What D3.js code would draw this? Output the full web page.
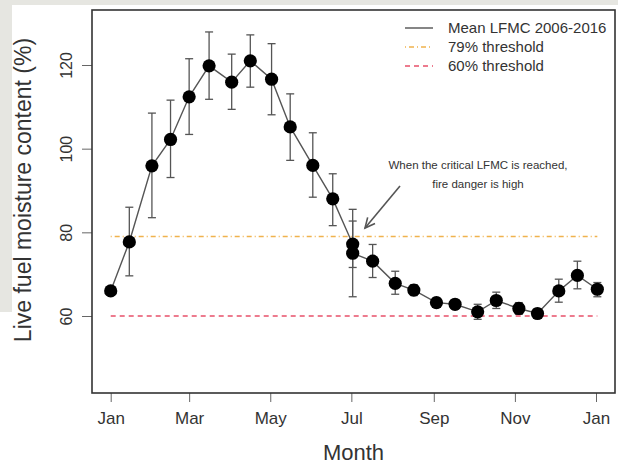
<!DOCTYPE html>
<html>
<head>
<meta charset="utf-8">
<script src="https://cdn.jsdelivr.net/npm/d3@7"></script>
<style>
  body { margin: 0; background: #fff; }
  svg { display: block; font-family: "Liberation Sans", Arial, sans-serif; }
</style>
</head>
<body>
<div id="chart"></div>
<script>
        // Data: day of year for each mean, with the spread shown as error bars
        const days = [1, 15, 32, 46, 60, 75, 92, 106, 122, 136, 153, 168, 183, 183,
                      198, 215, 229, 246, 260, 277, 291, 308, 322, 338, 352, 367];
        const meanLfmc = [66.0, 77.7, 95.9, 102.2, 112.4, 119.8, 115.9, 121.0, 116.6, 105.2,
                          96.0, 88.0, 77.2, 75.0, 73.1, 67.8, 66.2, 63.2, 62.8, 61.0,
                          63.7, 61.8, 60.6, 66.0, 69.7, 66.4];
        const upperLfmc = [66.5, 86.0, 108.5, 111.6, 121.5, 127.9, 122.6, 127.2, 125.1, 113.1,
                           103.8, 94.0, 82.7, 85.5, 77.1, 70.7, 67.5, 64.3, 63.9, 62.8,
                           65.7, 63.2, 61.7, 68.8, 73.1, 68.0];
        const lowerLfmc = [65.5, 69.6, 83.5, 93.1, 103.4, 111.8, 109.4, 114.7, 108.1, 97.2,
                           88.4, 81.6, 71.6, 64.6, 69.2, 65.2, 64.9, 62.1, 61.7, 59.2,
                           61.8, 60.4, 59.5, 63.3, 66.5, 64.6];
        const monthTicks = [1, 60, 121, 182, 244, 305, 366];
        const monthLabels = ["Jan", "Mar", "May", "Jul", "Sep", "Nov", "Jan"];
        const yTicks = [60, 80, 100, 120];
        const thresholds = [79, 60];

        const width = 618;
        const height = 466;
        const box = { left: 92, right: 615, top: 10, bottom: 393 };

        const svg = d3.select("#chart")
            .append("svg")
            .attr("width", width)
            .attr("height", height);

        // slide background peeking around the figure
        svg.append("rect").attr("x", 0).attr("y", 0).attr("width", width).attr("height", 5).attr("fill", "#e6e6e1");
        svg.append("rect").attr("x", 0).attr("y", 0).attr("width", 12).attr("height", 312).attr("fill", "#e6e6e1");

        const x = d3.scaleLinear().domain([1, 366]).range([110.7, 596]);
        const y = d3.scaleLinear().domain([60, 120]).range([316, 65]);

        const textColor = "#333";

        // axes
        const xAxis = svg.append("g")
            .attr("transform", `translate(0,${box.bottom})`)
            .call(d3.axisBottom(x).tickValues(monthTicks).tickFormat((d, i) => monthLabels[i]).tickSize(9).tickPadding(10));
        xAxis.select(".domain").remove();
        xAxis.selectAll("line").attr("stroke", "#666").attr("stroke-width", 1);
        xAxis.selectAll("text").attr("font-size", 17).attr("fill", textColor).attr("font-family", "Liberation Sans, Arial, sans-serif");

        const yAxis = svg.append("g")
            .attr("transform", `translate(${box.left},0)`)
            .call(d3.axisLeft(y).tickValues(yTicks).tickSize(10).tickPadding(0).tickFormat(d3.format("d")));
        yAxis.select(".domain").remove();
        yAxis.selectAll("line").attr("stroke", "#666").attr("stroke-width", 1);
        yAxis.selectAll("text")
            .attr("font-size", 16)
            .attr("fill", textColor)
            .attr("font-family", "Liberation Sans, Arial, sans-serif")
            .attr("text-anchor", "middle")
            .attr("x", 0).attr("dy", 0)
            .attr("transform", "translate(-20,0) rotate(-90)");

        svg.append("rect")
            .attr("x", box.left).attr("y", box.top)
            .attr("width", box.right - box.left).attr("height", box.bottom - box.top)
            .attr("fill", "none").attr("stroke", "#333").attr("stroke-width", 1.6);

        // axis titles
        svg.append("text")
            .attr("x", (box.left + box.right) / 2).attr("y", 460)
            .attr("text-anchor", "middle").attr("font-size", 22).attr("fill", textColor)
            .text("Month");
        svg.append("text")
            .attr("transform", "translate(31,190) rotate(-90)")
            .attr("text-anchor", "middle").attr("font-size", 23).attr("fill", textColor)
            .text("Live fuel moisture content (%)");

        // threshold lines
        const thrStyle = [
            { color: "#f0b24e", dash: "1,3,5,3" },
            { color: "#e8506a", dash: "5,4" }
        ];
        svg.append("g")
            .selectAll("line")
            .data(thresholds)
            .enter()
            .append("line")
            .attr("x1", x(days[0])).attr("x2", x(days[days.length - 1]))
            .attr("y1", d => y(d)).attr("y2", d => y(d))
            .attr("stroke", (d, i) => thrStyle[i].color)
            .attr("stroke-width", 1.3)
            .attr("stroke-dasharray", (d, i) => thrStyle[i].dash);

        // error bars
        const idx = d3.range(days.length);
        const bars = svg.append("g").attr("stroke", "#555").attr("stroke-width", 1.3);
        bars.selectAll("line.v").data(idx).enter().append("line")
            .attr("x1", i => x(days[i])).attr("x2", i => x(days[i]))
            .attr("y1", i => y(upperLfmc[i])).attr("y2", i => y(lowerLfmc[i]));
        bars.selectAll("line.top").data(idx).enter().append("line")
            .attr("x1", i => x(days[i]) - 4).attr("x2", i => x(days[i]) + 4)
            .attr("y1", i => y(upperLfmc[i])).attr("y2", i => y(upperLfmc[i]));
        bars.selectAll("line.bot").data(idx).enter().append("line")
            .attr("x1", i => x(days[i]) - 4).attr("x2", i => x(days[i]) + 4)
            .attr("y1", i => y(lowerLfmc[i])).attr("y2", i => y(lowerLfmc[i]));

        // mean line and points
        const line = d3.line().x(i => x(days[i])).y(i => y(meanLfmc[i]));
        svg.append("path")
            .datum(idx)
            .attr("d", line)
            .attr("fill", "none")
            .attr("stroke", "#555")
            .attr("stroke-width", 1.4);

        svg.append("g")
            .selectAll("circle")
            .data(idx)
            .enter()
            .append("circle")
            .attr("cx", i => x(days[i]))
            .attr("cy", i => y(meanLfmc[i]))
            .attr("r", 6.6)
            .attr("fill", "#000");

        // legend
        const legendItems = [
            { label: "Mean LFMC 2006-2016", color: "#444", dash: null },
            { label: "79% threshold", color: thrStyle[0].color, dash: thrStyle[0].dash },
            { label: "60% threshold", color: thrStyle[1].color, dash: thrStyle[1].dash }
        ];
        const legend = svg.append("g");
        legendItems.forEach((item, i) => {
            const ly = 28 + i * 19;
            legend.append("line")
                .attr("x1", 405).attr("x2", 433)
                .attr("y1", ly).attr("y2", ly)
                .attr("stroke", item.color).attr("stroke-width", 1.3)
                .attr("stroke-dasharray", item.dash);
            legend.append("text")
                .attr("x", 448).attr("y", ly + 5)
                .attr("font-size", 15).attr("fill", textColor)
                .text(item.label);
        });

        // annotation
        svg.append("text")
            .attr("x", 478).attr("y", 169)
            .attr("text-anchor", "middle").attr("font-size", 11.5).attr("fill", textColor)
            .text("When the critical LFMC is reached,");
        svg.append("text")
            .attr("x", 478).attr("y", 188)
            .attr("text-anchor", "middle").attr("font-size", 11.5).attr("fill", textColor)
            .text("fire danger is high");

        const ax1 = 400, ay1 = 186, ax2 = 365, ay2 = 228;
        const ang = Math.atan2(ay2 - ay1, ax2 - ax1);
        const head = 11;
        svg.append("line")
            .attr("x1", ax1).attr("y1", ay1).attr("x2", ax2).attr("y2", ay2)
            .attr("stroke", "#555").attr("stroke-width", 1.6);
        svg.append("path")
            .attr("d", `M${ax2 - head * Math.cos(ang - 0.45)},${ay2 - head * Math.sin(ang - 0.45)}L${ax2},${ay2}L${ax2 - head * Math.cos(ang + 0.45)},${ay2 - head * Math.sin(ang + 0.45)}`)
            .attr("fill", "none").attr("stroke", "#555").attr("stroke-width", 1.6);
</script>
</body>
</html>
